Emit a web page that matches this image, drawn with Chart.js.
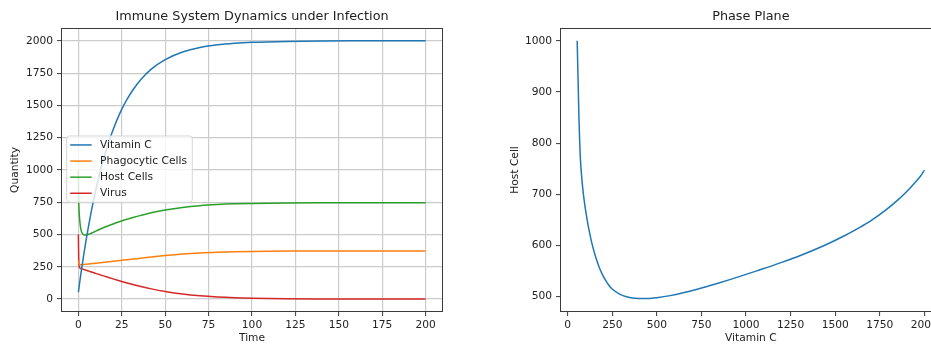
<!DOCTYPE html>
<html><head><meta charset="utf-8">
<script src="https://cdn.jsdelivr.net/npm/chart.js@4.4.1/dist/chart.umd.min.js"></script>
<style>
html,body{margin:0;padding:0;width:931px;height:347px;overflow:hidden;background:#fff;}
#a{position:absolute;left:0;top:0;}
#b{position:absolute;left:480px;top:0;}
</style></head><body>
<canvas id="a" width="460" height="347"></canvas>
<canvas id="b" width="480" height="347"></canvas>
<script>
// ---- data ----
const times      = [0, 0.05, 0.1, 0.15, 0.2, 0.3, 0.4, 0.55, 0.7, 0.85, 1, 1.25, 1.5, 1.75, 2, 2.5, 3, 3.5, 4, 4.5, 5, 6, 7, 8, 9, 10, 12, 14, 17, 20, 24, 28, 32, 36, 42, 50, 60, 70, 80, 90, 100, 120, 140, 160, 180, 200];
const vitaminC   = [53, 58, 63, 68, 73, 83, 93, 108, 123, 137, 152, 176, 199, 223, 246, 291, 335, 377, 419, 460, 499, 575, 648, 716, 781, 843, 957, 1060, 1196, 1312, 1442, 1546, 1631, 1701, 1781, 1855, 1914, 1949, 1970, 1982, 1989, 1996, 1999, 2000, 2000, 2000];
const phagocytic = [300, 292, 286, 281, 277, 273, 270, 268, 267, 266.5, 266, 266, 266.3, 266.6, 267, 267.7, 268.4, 269, 269.6, 270.2, 270.8, 272.2, 273.6, 275, 276.4, 277.8, 280.8, 283.8, 288.4, 293, 299, 305, 311, 316.8, 325.5, 337, 349, 357.5, 363, 366.8, 369.2, 371.6, 372.6, 373, 373, 373];
const hostCells  = [1000, 925, 850, 795, 758, 716, 686, 652, 624, 602, 583, 558, 540, 526, 516, 505, 499.5, 497, 496.2, 496.6, 497.8, 502, 507.5, 513.5, 519.8, 526.2, 538.6, 550.4, 566.5, 581.5, 600.5, 618, 634, 648.5, 668.5, 690, 710, 723.5, 732, 737.5, 741, 744.8, 746.3, 746.8, 747, 747];
const virus      = [500, 445, 400, 355, 318, 275, 258, 249, 244, 241, 239, 238, 237, 235.6, 234.5, 232.3, 230, 227.8, 225.5, 223.3, 221, 216.6, 212.2, 207.8, 203.4, 199, 190.4, 181.8, 169, 156.5, 140.5, 125, 110.5, 97, 79, 58.5, 38.5, 25, 16, 10.3, 6.8, 3, 1.3, 0.6, 0.3, 0.1];
const seriesNames  = ['Vitamin C', 'Phagocytic Cells', 'Host Cells', 'Virus'];
const seriesColors = ['#1f77b4', '#ff7f0e', '#2ca02c', '#d62728'];
const timeTicks     = [0, 25, 50, 75, 100, 125, 150, 175, 200];
const quantityTicks = [0, 250, 500, 750, 1000, 1250, 1500, 1750, 2000];
const vitCTicks     = [0, 250, 500, 750, 1000, 1250, 1500, 1750, 2000];
const hostTicks     = [500, 600, 700, 800, 900, 1000];

const FS = 10.67;      // tick / label / legend font size
const TFS = 12.8;      // title font size
Chart.defaults.font.family = "'DejaVu Sans', sans-serif";
Chart.defaults.font.size = FS;
Chart.defaults.color = '#222';
Chart.defaults.animation = false;

const TEXT = '#222';
const SPINE = '#3a3a3a';

const framePlugin = {
  id: 'frame',
  afterDatasetsDraw(chart) {
    const {ctx, chartArea: a} = chart;
    ctx.save();
    ctx.strokeStyle = SPINE;
    ctx.lineWidth = 1;
    ctx.strokeRect(Math.round(a.left) + 0.5, Math.round(a.top) + 0.5,
                   Math.round(a.right - a.left) - 1, Math.round(a.bottom - a.top) - 1);
    ctx.restore();
  }
};

const boxLegend = {
  id: 'boxLegend',
  afterDraw(chart, args, opts) {
    if (!opts.show) return;
    const {ctx, chartArea: a} = chart;
    const x0 = a.left + opts.dx, y0 = a.top + opts.dy, w = opts.w, h = opts.h, r = 3;
    ctx.save();
    ctx.beginPath();
    ctx.moveTo(x0 + r, y0);
    ctx.arcTo(x0 + w, y0, x0 + w, y0 + h, r);
    ctx.arcTo(x0 + w, y0 + h, x0, y0 + h, r);
    ctx.arcTo(x0, y0 + h, x0, y0, r);
    ctx.arcTo(x0, y0, x0 + w, y0, r);
    ctx.closePath();
    ctx.fillStyle = 'rgba(255,255,255,0.8)';
    ctx.fill();
    ctx.strokeStyle = '#d6d6d6';
    ctx.lineWidth = 1;
    ctx.stroke();
    ctx.font = FS + "px 'DejaVu Sans', sans-serif";
    ctx.textBaseline = 'middle';
    ctx.textAlign = 'left';
    chart.data.datasets.forEach((ds, i) => {
      const y = y0 + 9 + i * 16.1;
      ctx.strokeStyle = ds.borderColor;
      ctx.lineWidth = 1.5;
      ctx.beginPath();
      ctx.moveTo(x0 + 3.5, y);
      ctx.lineTo(x0 + 25, y);
      ctx.stroke();
      ctx.fillStyle = TEXT;
      ctx.fillText(ds.label, x0 + 33.3, y);
    });
    ctx.restore();
  }
};

function makeScale(opt) {
  return {
    type: 'linear',
    min: opt.min, max: opt.max,
    afterBuildTicks: s => { s.ticks = opt.ticks.map(v => ({value: v})); },
    afterFit: opt.fit,
    ticks: { padding: opt.tickPad, color: TEXT, font: {size: FS}, callback: v => String(v), maxRotation: 0, autoSkip: false },
    grid: {
      display: true,
      drawOnChartArea: opt.grid,
      color: '#cccccc',
      lineWidth: 1.2,
      tickLength: 4,
      tickColor: SPINE,
      tickWidth: 1
    },
    border: { display: false },
    title: { display: true, text: opt.title, color: TEXT, font: {size: FS}, padding: opt.titlePad }
  };
}

const allSeries = [vitaminC, phagocytic, hostCells, virus];

new Chart(document.getElementById('a'), {
  type: 'line',
  data: {
    datasets: allSeries.map((arr, i) => ({
      label: seriesNames[i],
      borderColor: seriesColors[i],
      backgroundColor: seriesColors[i],
      pointRadius: 0, borderWidth: 1.5, cubicInterpolationMode: 'monotone', fill: false,
      data: times.map((t, j) => ({x: t, y: arr[j]}))
    }))
  },
  options: {
    responsive: false,
    layout: { padding: { left: 0, right: 17, top: 0, bottom: 0 } },
    scales: {
      x: makeScale({min: -10, max: 210, ticks: timeTicks, grid: true, title: 'Time', tickPad: 3,
                    titlePad: {top: 0, bottom: 2}, fit: s => { s.height = 35; }}),
      y: makeScale({min: -100, max: 2100, ticks: quantityTicks, grid: true, title: 'Quantity', tickPad: 4,
                    titlePad: {top: 9, bottom: 0}, fit: s => { s.width = 61; }})
    },
    plugins: {
      legend: { display: false },
      tooltip: { enabled: false },
      title: { display: true, fullSize: false, text: 'Immune System Dynamics under Infection', color: TEXT,
               font: {size: TFS, weight: 'normal', lineHeight: 1.2}, padding: {top: 8.5, bottom: 4.1} },
      boxLegend: { show: true, dx: 5.7, dy: 108, w: 125.6, h: 66.3 }
    }
  },
  plugins: [framePlugin, boxLegend]
});

new Chart(document.getElementById('b'), {
  type: 'line',
  data: {
    datasets: [{
      label: 'Phase Plane',
      borderColor: seriesColors[0],
      pointRadius: 0, borderWidth: 1.5, tension: 0.35, fill: false,
      data: vitaminC.map((v, j) => ({x: v, y: hostCells[j]}))
    }]
  },
  options: {
    responsive: false,
    layout: { padding: { left: 0, right: 18.3, top: 0, bottom: 0 } },
    scales: {
      x: makeScale({min: -43.3, max: 2097.3, ticks: vitCTicks, grid: false, title: 'Vitamin C', tickPad: 3,
                    titlePad: {top: 0, bottom: 2}, fit: s => { s.height = 35; }}),
      y: makeScale({min: 470, max: 1025, ticks: hostTicks, grid: false, title: 'Host Cell', tickPad: 4,
                    titlePad: {top: 29, bottom: 0}, fit: s => { s.width = 80; }})
    },
    plugins: {
      legend: { display: false },
      tooltip: { enabled: false },
      title: { display: true, fullSize: false, text: 'Phase Plane', color: TEXT,
               font: {size: TFS, weight: 'normal', lineHeight: 1.2}, padding: {top: 8.5, bottom: 4.1} },
      boxLegend: { show: false }
    }
  },
  plugins: [framePlugin, boxLegend]
});
</script>
</body></html>
